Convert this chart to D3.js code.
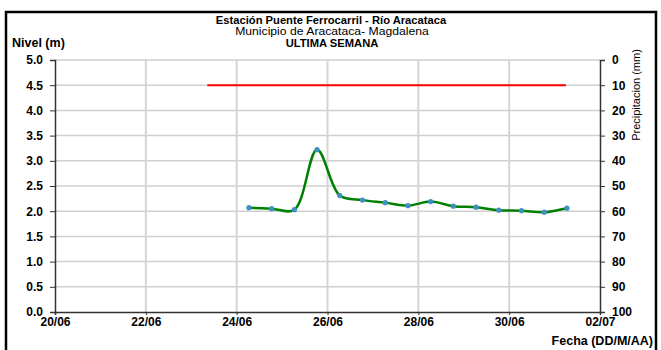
<!DOCTYPE html>
<html><head><meta charset="utf-8">
<script src="https://cdn.jsdelivr.net/npm/d3@7"></script>
<style>
html,body{margin:0;padding:0;background:#fff;}
svg{display:block;font-family:"Liberation Sans",Arial,sans-serif;}
</style></head>
<body><svg id="c" width="661" height="350"></svg>
<script>
const titleLines = ["Estación Puente Ferrocarril - Río Aracataca", "Municipio de Aracataca- Magdalena", "ULTIMA SEMANA"];
const levelDates = ["2023-06-24T06:30","2023-06-24T18:30","2023-06-25T06:30","2023-06-25T18:30","2023-06-26T06:30","2023-06-26T18:30","2023-06-27T06:30","2023-06-27T18:30","2023-06-28T06:30","2023-06-28T18:30","2023-06-29T06:30","2023-06-29T18:30","2023-06-30T06:30","2023-06-30T18:30","2023-07-01T06:30"];
const levelValues = [2.07,2.05,2.03,3.22,2.31,2.22,2.17,2.11,2.19,2.10,2.08,2.02,2.01,1.98,2.06];
const alertDates = ["2023-06-23T08:30","2023-07-01T06:00"];
const alertValues = [4.5,4.5];
const xDomain = ["2023-06-20T00:00","2023-07-02T00:00"];
const dateTicks = ["2023-06-20T00:00","2023-06-22T00:00","2023-06-24T00:00","2023-06-26T00:00","2023-06-28T00:00","2023-06-30T00:00","2023-07-02T00:00"];
const levelTicks = [0,0.5,1,1.5,2,2.5,3,3.5,4,4.5,5];
const precipTicks = [0,10,20,30,40,50,60,70,80,90,100];

const parse = d3.timeParse("%Y-%m-%dT%H:%M");
const svg = d3.select("#c");
const m = {l:55, r:600, t:60, b:312};

const x = d3.scaleTime().domain(xDomain.map(parse)).range([m.l, m.r]);
const y = d3.scaleLinear().domain([0,5]).range([m.b, m.t]);
const y2 = d3.scaleLinear().domain([100,0]).range([m.b, m.t]);
const xTicks = dateTicks.map(parse);

// frame
svg.append("rect").attr("x",6).attr("y",12).attr("width",650).attr("height",350)
  .attr("fill","none").attr("stroke","#000").attr("stroke-width",2.5);

// gridlines
svg.append("g").selectAll("line").data(levelTicks.filter(d=>d>0)).join("line")
  .attr("x1",m.l).attr("x2",m.r).attr("y1",d=>y(d)).attr("y2",d=>y(d))
  .attr("stroke","#cfcfcf").attr("stroke-width",1.5);
svg.append("g").selectAll("line").data(xTicks.slice(1,-1)).join("line")
  .attr("x1",d=>x(d)).attr("x2",d=>x(d)).attr("y1",m.t).attr("y2",m.b)
  .attr("stroke","#d4d4d4").attr("stroke-width",2);

// axes
const fmt = d3.timeFormat("%d/%m");
const gl = svg.append("g").attr("transform",`translate(${m.l},0)`)
  .call(d3.axisLeft(y).tickValues(levelTicks).tickFormat(d3.format(".1f")).tickSize(5).tickPadding(7));
const gr = svg.append("g").attr("transform",`translate(${m.r},0)`)
  .call(d3.axisRight(y2).tickValues(precipTicks).tickSize(5).tickPadding(7));
const gb = svg.append("g").attr("transform",`translate(0,${m.b})`)
  .call(d3.axisBottom(x).tickValues(xTicks).tickFormat(fmt).tickSize(3).tickPadding(2));
[gl,gr,gb].forEach(g=>{
  g.select(".domain").attr("stroke","#333").attr("stroke-width",1.5);
  g.selectAll(".tick line").attr("stroke","#333").attr("stroke-width",1);
  g.selectAll("text").attr("font-family","Liberation Sans, Arial").attr("font-weight","bold")
    .attr("font-size",12).attr("fill","#000");
});

// alert line
svg.append("path").datum(alertDates.map((d,i)=>[parse(d),alertValues[i]]))
  .attr("d",d3.line().x(d=>x(d[0])).y(d=>y(d[1])))
  .attr("stroke","#ff0000").attr("stroke-width",2).attr("fill","none");

// level line
const pts = levelDates.map((d,i)=>[parse(d),levelValues[i]]);
svg.append("path").datum(pts)
  .attr("d",d3.line().x(d=>x(d[0])).y(d=>y(d[1])).curve(d3.curveCatmullRom.alpha(0.5)))
  .attr("stroke","#008000").attr("stroke-width",2.5).attr("fill","none");
svg.append("g").selectAll("circle").data(pts).join("circle")
  .attr("cx",d=>x(d[0])).attr("cy",d=>y(d[1])).attr("r",2.6).attr("fill","#3f8fc0");

// titles (slightly widened to match the reference's letter widths)
const tg = svg.append("g").attr("text-anchor","middle").attr("font-size",10);
tg.append("text").attr("transform","translate(331,24) scale(1.12,1)").attr("font-weight","bold").text(titleLines[0]);
tg.append("text").attr("transform","translate(332,35.3) scale(1.22,1)").text(titleLines[1]);
tg.append("text").attr("transform","translate(332,46.6) scale(1.12,1)").attr("font-weight","bold").text(titleLines[2]);

svg.append("text").attr("x",12).attr("y",47).attr("font-weight","bold").attr("font-size",12.5).text("Nivel (m)");
svg.append("text").attr("x",653).attr("y",345).attr("text-anchor","end").attr("font-weight","bold").attr("font-size",12.5).text("Fecha (DD/M/AA)");
svg.append("text").attr("transform","translate(640,95) rotate(-90)").attr("text-anchor","middle")
  .attr("font-size",11).text("Precipitacion (mm)");
</script></body></html>
